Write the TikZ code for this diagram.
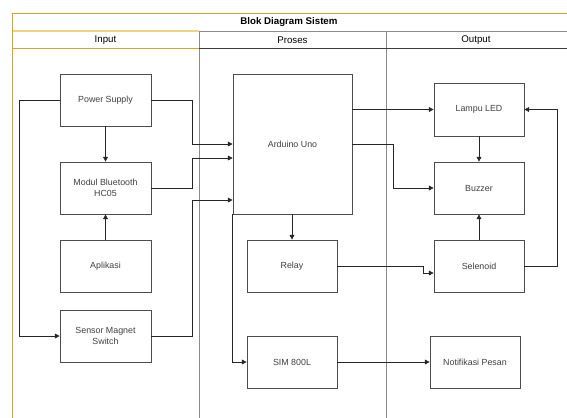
\documentclass[tikz,border=0pt]{standalone}
\usepackage{fontspec}
\setmainfont{Liberation Sans}
\usepackage{tikz}
\usetikzlibrary{arrows.meta}
\definecolor{laneorange}{HTML}{E0A419}
\definecolor{lightorange}{HTML}{F2D27A}
\definecolor{lanegray}{HTML}{8C8C8C}
\definecolor{darkline}{HTML}{3C3C3C}
\definecolor{boxgray}{HTML}{4D4D4D}
\definecolor{textgray}{HTML}{404040}
\tikzset{
  blok/.style={draw=boxgray, line width=0.5pt, fill=white, text=textgray,
    align=center, inner sep=1pt, font=\fontsize{6.3}{7.6}\selectfont},
  blokkecil/.style={blok, minimum width=2.275cm, minimum height=1.3cm},
  panah/.style={draw=black!85, line width=0.5pt, -{Triangle[length=3.4pt,width=3.4pt]}},
  garis/.style={draw=black!85, line width=0.5pt},
  judul/.style={font=\fontsize{6.9}{8}\selectfont}
}

\begin{document}
\begin{tikzpicture}[x=0.025cm, y=-0.025cm]
  \clip (0,0) rectangle (567,417);
  \fill[white] (0,0) rectangle (567,417);
  % lanes
  \draw[lanegray, line width=0.6pt] (199,31) to (199,420);
  \draw[lanegray, line width=0.6pt] (386,31) to (386,420);
  \draw[lanegray, line width=0.6pt] (199,31) to (570,31);
  \draw[darkline, line width=0.6pt] (199,48) to (570,48);
  \draw[lightorange, line width=0.8pt] (12,31) to (199,31);
  \draw[laneorange, line width=0.6pt] (12,48) to (199,48);
  \draw[laneorange, line width=0.6pt] (12,420) to (12,13) to (570,13);
  \node[judul, font=\fontsize{6.9}{8}\selectfont\bfseries] (title) at (289,22) {Blok Diagram Sistem};
  \node[judul] (input) at (105.5,40) {Input};
  \node[judul] (proses) at (292.5,40) {Proses};
  \node[judul] (output) at (476,40) {Output};

  % input
  \node[blokkecil] (ps) at (105.5,100) {Power Supply};
  \node[blokkecil] (bt) at (105.5,188) {Modul Bluetooth\\HC05};
  \node[blokkecil] (app) at (105.5,266) {Aplikasi};
  \node[blokkecil] (sensor) at (105.5,336) {Sensor Magnet\\Switch};

  % proses
  \node[blok, minimum width=2.975cm, minimum height=3.5cm] (ardu) at (292.5,144) {Arduino Uno};
  \node[blok, minimum width=2.25cm, minimum height=1.3cm] (relay) at (292,266) {Relay};
  \node[blok, minimum width=2.25cm, minimum height=1.3cm] (sim) at (292,362) {SIM 800L};

  % output
  \node[blok, minimum width=2.25cm, minimum height=1.325cm] (led) at (479,109.5) {Lampu LED};
  \node[blok, minimum width=2.25cm, minimum height=1.3cm] (buzzer) at (479,188) {Buzzer};
  \node[blok, minimum width=2.25cm, minimum height=1.3cm] (sel) at (479,266) {Selenoid};
  \node[blok, minimum width=2.25cm, minimum height=1.3cm] (notif) at (475,362) {Notifikasi Pesan};

  \draw[panah] (ps) to (bt);
  \draw[panah] (app) to (bt);
  \draw[panah] (ps.west) -- ++(-40,0) |- (sensor.west);
  \draw[panah] (ps.east) -- ++(41,0) |- (ardu.west);
  \draw[panah] (bt.east) -- ++(41,0) |- ([yshift=-0.35cm]ardu.west);
  \draw[panah] (sensor.east) -- ++(41,0) |- ([yshift=-1.4cm]ardu.west);
  \draw[panah] (ardu.south -| relay.north) to (relay.north);
  \draw[panah] (ardu.south west) |- (sim.west);
  \draw[panah] (relay.east) -- ++(86,0) |- ([yshift=-0.175cm]sel.west);
  \draw[panah] (sim.east) to (notif.west);
  \draw[panah] (ardu.east |- led.west) to (led.west);
  \draw[panah] (ardu.east) -- ++(41,0) |- (buzzer.west);
  \draw[panah] (led) to (buzzer);
  \draw[panah] (sel) to (buzzer);
  \draw[panah] (sel.east) -- ++(33,0) |- (led.east);
\end{tikzpicture}
\end{document}
